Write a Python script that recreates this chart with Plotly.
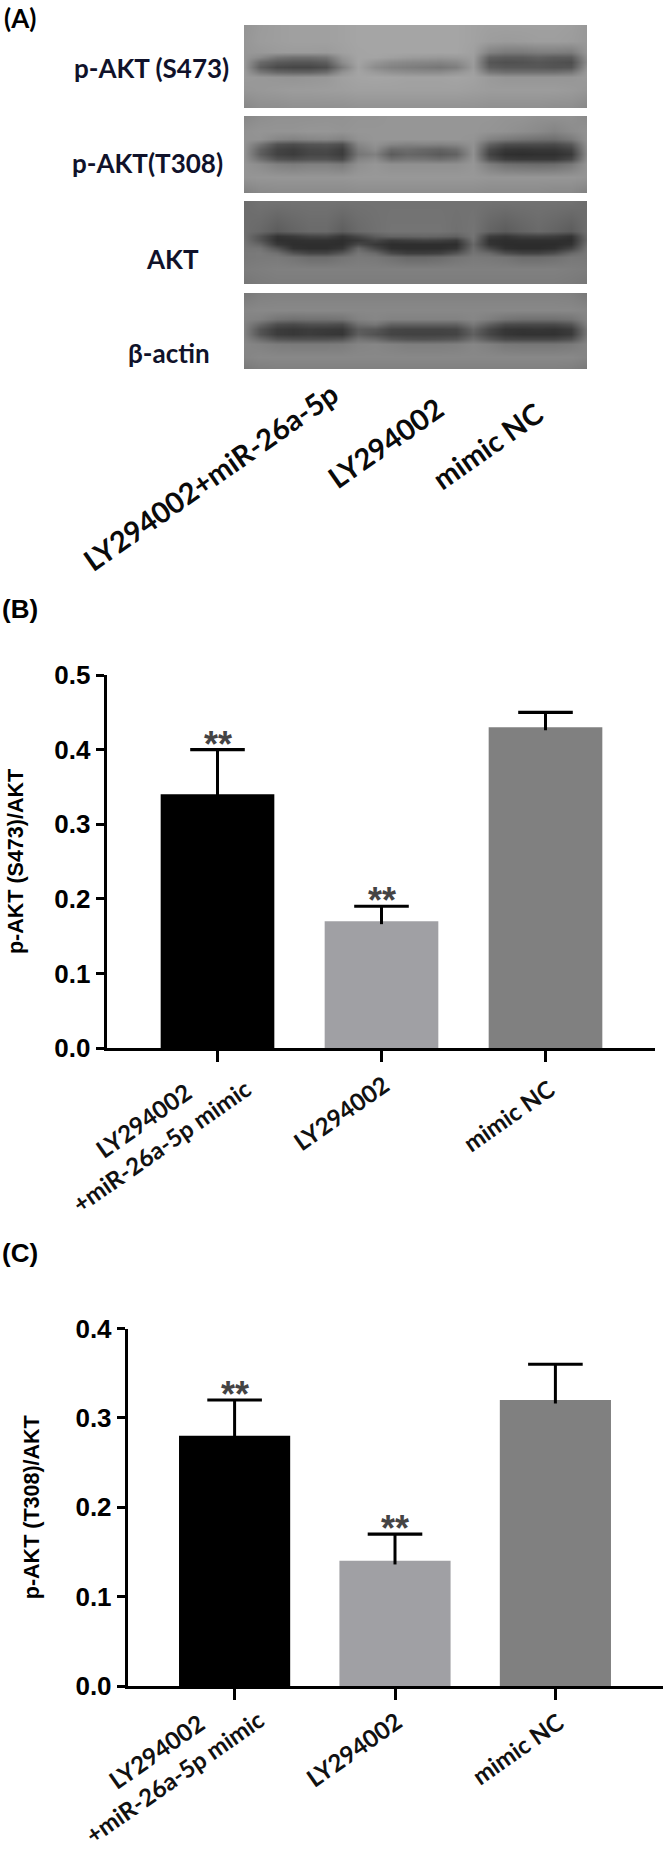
import plotly.graph_objects as go

W, H = 666, 1853

# ---------- data ----------
groups = ["LY294002<br>+miR-26a-5p mimic", "LY294002", "mimic NC"]
blot_groups = ["LY294002+miR-26a-5p", "LY294002", "mimic NC"]
s473_values = [0.34, 0.17, 0.43]
s473_errors = [0.06, 0.02, 0.02]
t308_values = [0.28, 0.14, 0.32]
t308_errors = [0.04, 0.03, 0.04]
s473_stars = ["**", "**", ""]
t308_stars = ["**", "**", ""]
s473_ticks = [0.0, 0.1, 0.2, 0.3, 0.4, 0.5]
t308_ticks = [0.0, 0.1, 0.2, 0.3, 0.4]
bar_colors = ["#000000", "#a0a0a4", "#808080"]
blot_names = ["p-AKT (S473)", "p-AKT(T308)", "AKT", "β-actin"]
blot_cols = [i / 21 for i in range(22)]

s473_rows = [0, .188, .328, .388, .448, .508, .568, .628, .788, 1]
s473_grey = [
 [148,155,158,160,160,160,162,165,165,165,165,165,165,165,162,160,160,160,160,160,158,152],
 [150,156,158,160,160,160,162,165,165,165,165,165,165,165,162,157,155,156,158,158,156,152],
 [150,152,155,156,156,155,160,164,165,165,165,165,165,165,160,130,122,122,126,126,124,150],
 [150,138,118,112,112,118,150,164,164,160,156,154,152,154,158,98,92,92,98,92,92,145],
 [152,106,90,86,86,94,140,164,150,140,136,134,132,138,156,86,80,82,86,82,78,140],
 [152,94,74,70,70,78,124,162,140,130,126,122,118,126,155,94,88,88,88,84,85,148],
 [154,120,104,100,100,110,146,164,154,146,142,140,140,148,160,120,112,112,112,112,118,154],
 [154,152,150,148,150,152,160,164,165,164,162,162,162,164,162,154,150,150,150,150,150,154],
 [150,152,154,156,156,157,158,160,160,160,160,160,160,160,158,156,156,156,156,156,154,150],
 [135,142,142,144,144,144,144,146,146,146,146,146,146,146,146,144,144,144,144,142,142,135],
]
t308_rows = [0, .194, .302, .366, .431, .496, .560, .625, .797, 1]
t308_grey = [
 [135,142,145,145,145,146,146,148,148,150,150,150,150,150,150,150,148,148,145,145,145,138],
 [145,148,148,148,150,150,148,150,150,150,150,150,150,150,150,148,146,142,138,132,140,146],
 [146,146,134,130,134,136,130,146,150,150,150,150,150,150,148,130,122,116,112,110,122,146],
 [146,116,82,76,84,86,78,134,146,134,130,132,130,134,146,98,78,76,76,74,88,144],
 [146,98,68,62,72,74,62,124,140,106,110,104,100,110,146,76,56,54,56,56,68,142],
 [146,94,66,60,70,70,60,118,128,92,102,98,90,98,145,68,48,46,48,48,58,140],
 [146,112,84,78,84,84,74,132,140,112,118,116,110,118,148,84,62,58,58,58,74,144],
 [148,140,128,124,128,128,122,144,150,144,144,144,144,144,150,126,112,108,106,108,120,148],
 [148,150,150,150,150,150,150,152,152,152,152,152,152,152,152,150,150,150,150,150,150,148],
 [128,136,138,138,138,138,138,140,140,140,140,140,140,140,140,138,138,138,138,136,136,128],
]
akt_rows = [0, .365, .418, .467, .516, .570, .623, .672, .816, 1]
akt_grey = [
 [108,114,114,114,114,114,114,114,114,114,114,114,114,114,114,114,114,114,114,114,114,108],
 [110,104,92,100,106,106,94,106,112,116,116,116,116,112,116,100,92,100,106,100,92,110],
 [112,84,52,58,68,70,54,72,92,100,100,102,100,96,116,62,54,64,66,62,52,108],
 [114,84,48,48,50,50,46,56,70,58,62,66,64,58,112,50,46,48,48,48,46,105],
 [116,100,56,46,46,46,46,72,56,46,46,46,46,46,104,52,44,44,44,44,50,112],
 [118,116,84,50,46,46,54,104,72,48,46,46,46,52,110,72,48,44,44,48,68,118],
 [120,122,112,84,70,70,88,118,106,74,62,62,66,84,116,106,80,68,68,78,104,120],
 [120,122,122,116,108,108,116,122,120,112,104,104,108,116,122,120,116,108,108,112,120,120],
 [124,126,128,128,128,128,128,128,128,128,128,128,128,128,128,128,128,128,128,128,126,124],
 [118,122,124,124,124,124,124,124,124,124,124,124,124,124,124,124,124,124,124,124,122,118],
]
actin_rows = [0, .229, .339, .405, .471, .537, .604, .670, .846, 1]
actin_grey = [
 [120,128,130,130,130,130,130,130,130,130,130,130,130,130,130,130,130,130,130,130,128,120],
 [134,136,136,136,136,136,136,136,136,136,136,136,136,136,136,136,136,136,136,136,136,134],
 [132,128,116,112,114,114,116,130,134,130,130,130,130,130,134,126,116,112,112,112,116,132],
 [130,104,78,74,80,80,76,112,118,98,98,98,98,98,120,96,76,74,74,74,84,128],
 [130,84,60,56,60,58,56,92,88,70,68,68,68,70,102,72,54,52,54,52,60,120],
 [130,84,60,56,60,56,54,94,82,68,66,66,66,68,96,70,54,50,50,50,58,120],
 [132,108,86,82,82,82,86,116,108,90,84,82,84,88,112,90,74,72,72,72,82,126],
 [134,130,124,122,122,122,124,132,134,130,126,126,126,128,134,128,120,118,118,118,122,132],
 [132,136,136,136,136,136,136,136,136,136,136,136,136,136,136,136,136,136,136,136,136,132],
 [120,126,128,128,128,128,128,128,128,128,128,128,128,128,128,128,128,128,128,128,126,120],
]

# ---------- layout constants (pixels of the page) ----------
SANS = "Liberation Sans"
CAL = "Lato"
INK = "#10122a"


def fx(px):
    return px / W


def fy(px):
    return 1 - px / H


fig = go.Figure()
layout = dict(
    width=W, height=H, margin=dict(l=0, r=0, t=0, b=0, pad=0, autoexpand=False),
    paper_bgcolor="white", plot_bgcolor="white", showlegend=False,
)

# ---------- panel A: blots ----------
blots = [
    (s473_rows, s473_grey, 25, 108),
    (t308_rows, t308_grey, 116, 193),
    (akt_rows, akt_grey, 201, 284),
    (actin_rows, actin_grey, 293, 369),
]
for i, (rows, grey, top, bottom) in enumerate(blots):
    n = i + 1
    suffix = "" if n == 1 else str(n)
    fig.add_trace(go.Heatmap(
        x=blot_cols, y=rows, z=grey, zmin=0, zmax=255, zsmooth="best",
        colorscale=[[0, "#000000"], [1, "#ffffff"]], showscale=False,
        hoverinfo="skip", xaxis="x" + suffix, yaxis="y" + suffix,
    ))
    layout["xaxis" + suffix] = dict(domain=[fx(244), fx(587)], range=[0, 1], visible=False,
                                    anchor="y" + suffix)
    layout["yaxis" + suffix] = dict(domain=[fy(bottom), fy(top)], range=[1, 0], visible=False,
                                    anchor="x" + suffix)

annotations = []


def text(s, px, py, size, family=SANS, angle=0, color="black", bold=True, align="center"):
    annotations.append(dict(
        text=f"<b>{s}</b>" if bold else s, x=fx(px), y=fy(py), xref="paper", yref="paper",
        xanchor="center", yanchor="middle", showarrow=False, textangle=angle, align=align,
        font=dict(family=family, size=size, color=color),
    ))


text("(A)", 20, 18, 26, CAL, color="black")
text("(B)", 20, 609, 26)
text("(C)", 20, 1253, 26)
blot_label_px = [(151, 68), (147, 163), (172, 259), (169, 353)]
for name, (px, py) in zip(blot_names, blot_label_px):
    text(name, px, py, 26, CAL, color=INK)
blot_group_px = [(210, 476), (385, 442), (487, 445)]
for name, (px, py) in zip(blot_groups, blot_group_px):
    text(name, px, py, 29, CAL, angle=-35, color="#0a0a0a")


# ---------- panels B and C: bars ----------
def panel(n, values, errors, stars, ticks, title, x_left, x_right, y_top, y_zero,
          first_center, spacing, label_px, standoff):
    xa, ya = f"xaxis{n}", f"yaxis{n}"
    xr, yr = f"x{n}", f"y{n}"
    positions = list(range(len(values)))
    tops = [v + e for v, e in zip(values, errors)]
    fig.add_trace(go.Bar(
        x=positions, y=values, width=0.693, marker=dict(color=bar_colors, line=dict(width=0)),
        error_y=dict(type="data", array=errors, arrayminus=[0.004] * len(values), symmetric=False,
                     color="#000000", thickness=3, width=0),
        xaxis=xr, yaxis=yr,
    ))
    fig.add_trace(go.Scatter(
        x=positions, y=tops, mode="markers", xaxis=xr, yaxis=yr, hoverinfo="skip",
        marker=dict(symbol="line-ew", size=39, color="black", line=dict(color="black", width=3.2)),
    ))
    layout[xa] = dict(
        domain=[fx(x_left), fx(x_right)],
        range=[(x_left - first_center) / spacing, (x_right - first_center) / spacing],
        tickmode="array", tickvals=positions, showticklabels=False,
        ticks="outside", ticklen=11, tickwidth=2.6, tickcolor="black",
        showline=True, linecolor="black", linewidth=2.6, showgrid=False, zeroline=False,
        anchor=yr,
    )
    layout[ya] = dict(
        domain=[fy(y_zero), fy(y_top)], range=[0, ticks[-1]],
        tickmode="array", tickvals=ticks, ticktext=[f"{t:.1f}" for t in ticks],
        ticks="outside", ticklen=8, tickwidth=2.6, tickcolor="black",
        tickfont=dict(family=SANS, size=26, color="black", weight="bold"),
        showline=True, linecolor="black", linewidth=2.6, showgrid=False, zeroline=False,
        title=dict(text=f"<b>{title}</b>", standoff=standoff,
                   font=dict(family=SANS, size=21.5, color="black")),
        anchor=xr,
    )
    for p, t, s in zip(positions, tops, stars):
        if s:
            annotations.append(dict(
                text=f"<b>{s}</b>", x=p, y=t, xref=xr, yref=yr, xanchor="center", yanchor="bottom",
                yshift=-17, showarrow=False,
                font=dict(family=SANS, size=36, color="#444444"),
            ))
    for g, (px, py) in zip(groups, label_px):
        text(g, px, py, 24, CAL, angle=-35, color="#111111")


panel(5, s473_values, s473_errors, s473_stars, s473_ticks, "p-AKT (S473)/AKT",
      106.5, 655, 675, 1048, 217.5, 164,
      [(152, 1133), (341, 1112), (508, 1115)], 25)
panel(6, t308_values, t308_errors, t308_stars, t308_ticks, "p-AKT (T308)/AKT",
      127.6, 663, 1328.5, 1686, 234.6, 160.4,
      [(165, 1764), (353, 1749), (517, 1748)], 30)

layout["annotations"] = annotations
fig.update_layout(**layout)
fig.write_html("out.html", post_script="document.body.style.margin='0';",
               config={"displayModeBar": False})
